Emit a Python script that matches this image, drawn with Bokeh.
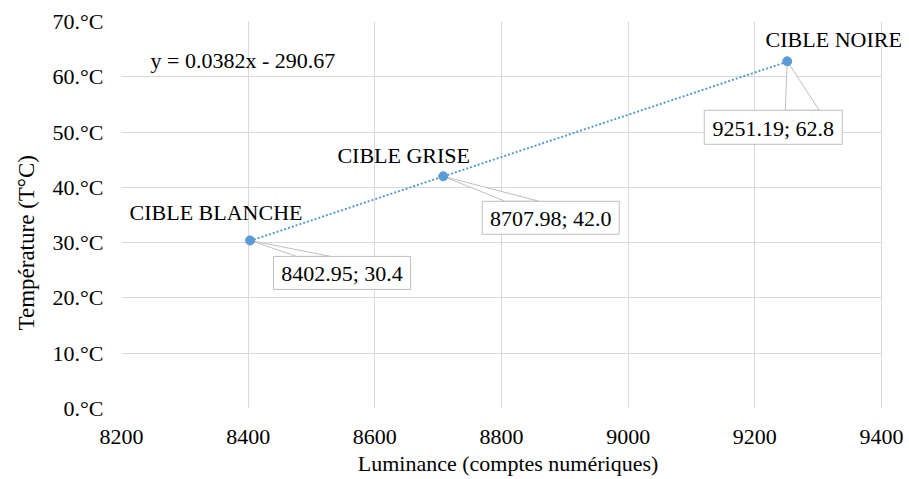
import math
from bokeh.plotting import figure
from bokeh.models import (ColumnDataSource, FixedTicker, CustomJSTickFormatter, Range1d, Title)
from bokeh.core.properties import value
from bokeh.embed import file_html
from bokeh.resources import INLINE

# ---- data ----
targets = ["CIBLE BLANCHE", "CIBLE GRISE", "CIBLE NOIRE"]
luminance = [8402.95, 8707.98, 9251.19]
temperature = [30.4, 42.0, 62.8]
slope = 0.0382
intercept = -290.67
x_ticks = [8200, 8400, 8600, 8800, 9000, 9200, 9400]
y_ticks = [0, 10, 20, 30, 40, 50, 60, 70]

# ---- layout / style ----
FONT = "'Liberation Serif', 'Times New Roman', 'DejaVu Serif', serif"
FS = "22px"
BLUE = "#5b9bd5"
GRID = "#d9d9d9"
CALLOUT = "#bfbfbf"
X0, X1 = 8200, 9400
Y0, Y1 = 0, 70
FW, FH = 760, 387
SX = (X1 - X0) / FW
SY = (Y1 - Y0) / FH
EXTRA = 24  # px of free space right of the plot area, for the "CIBLE NOIRE" name
X1_VIEW = X1 + EXTRA * SX

# callout layout in screen px relative to each point (left, top, width, height, wedge a, wedge b)
box_layout = [(23.5, 16, 137, 33, 46.5, 80.5),
              (39, 25, 137, 33, 62, 96),
              (-83, 49, 138, 34, -2, 32)]
# category name offset (center x, cap-center y) in px
name_layout = [(-34, -28), (-39.5, -20.5), (46.5, -22)]

p = figure(frame_width=FW + EXTRA, frame_height=FH, output_backend="svg", toolbar_location=None,
           x_range=Range1d(X0, X1_VIEW), y_range=Range1d(Y0, Y1),
           min_border_left=60, min_border_top=21, min_border_right=0, min_border_bottom=40)
p.outline_line_color = None
p.background_fill_color = "white"
p.border_fill_color = "white"

p.xaxis.ticker = FixedTicker(ticks=x_ticks)
p.yaxis.ticker = FixedTicker(ticks=y_ticks)
p.yaxis.formatter = CustomJSTickFormatter(code="return tick.toFixed(0) + '.\u00b0C'")
for ax in (p.xaxis, p.yaxis):
    ax.major_tick_line_color = None
    ax.minor_tick_line_color = None
    ax.major_label_text_font = FONT
    ax.major_label_text_font_size = FS
    ax.major_label_text_color = "black"
    ax.axis_line_color = None
p.yaxis.major_label_standoff = 12
p.xaxis.major_label_standoff = 15
p.xgrid.grid_line_color = GRID
p.ygrid.grid_line_color = GRID

# axis titles as side titles
p.add_layout(Title(text="Température (T°C)", align="left", offset=78, standoff=22,
                   text_font=FONT, text_font_size="23px", text_font_style="normal",
                   text_color="black"), "left")
p.add_layout(Title(text="Luminance  (comptes  numériques)", align="center", offset=-EXTRA / 2,
                   standoff=4, text_font=FONT, text_font_size=FS, text_font_style="normal",
                   text_color="black"), "below")

# blank the strip right of 9400 and close the plot area there
p.quad(left=[X1], right=[X1_VIEW], bottom=[Y0], top=[Y1], fill_color="white", line_color=None)
p.line([X1, X1], [Y0, Y1], line_color=GRID, line_width=1)

# trendline
tx = [min(luminance), max(luminance)]
ty = [slope * v + intercept for v in tx]
p.line(tx, ty, line_color=BLUE, line_width=2, line_dash="2 2")

# callouts
for (lx, ly, name), (bl, bt, bw, bh, wa, wb), (nx, ny) in zip(
        zip(luminance, temperature, targets), box_layout, name_layout):
    left = lx + bl * SX
    right = lx + (bl + bw) * SX
    top = ly - bt * SY
    bottom = ly - (bt + bh) * SY
    p.patch([lx, lx + wa * SX, lx + wb * SX], [ly, top, top],
            fill_color="white", line_color=CALLOUT, line_width=1)
    p.quad(left=[left], right=[right], top=[top], bottom=[bottom],
           fill_color="white", line_color=CALLOUT, line_width=1)
    p.text([(left + right) / 2], [top - (bh / 2 + 1) * SY], text=[f"{lx:.2f}; {ly:.1f}"],
           text_font=value(FONT), text_font_size=FS, text_color="black",
           text_align="center", text_baseline="middle")
    p.text([lx + nx * SX], [ly - ny * SY], text=[name],
           text_font=value(FONT), text_font_size=FS, text_color="black",
           text_align="center", text_baseline="middle")

# points
src = ColumnDataSource(dict(x=luminance, y=temperature))
p.scatter("x", "y", source=src, size=9, fill_color=BLUE, line_color=BLUE)

# equation
p.text([X0 + 29 * SX], [Y1 - 38.5 * SY], text=[f"y = {slope}x - {abs(intercept)}"],
       text_font=value(FONT), text_font_size=FS, text_color="black",
       text_align="left", text_baseline="middle")

open("out.html", "w").write(file_html(p, INLINE))
